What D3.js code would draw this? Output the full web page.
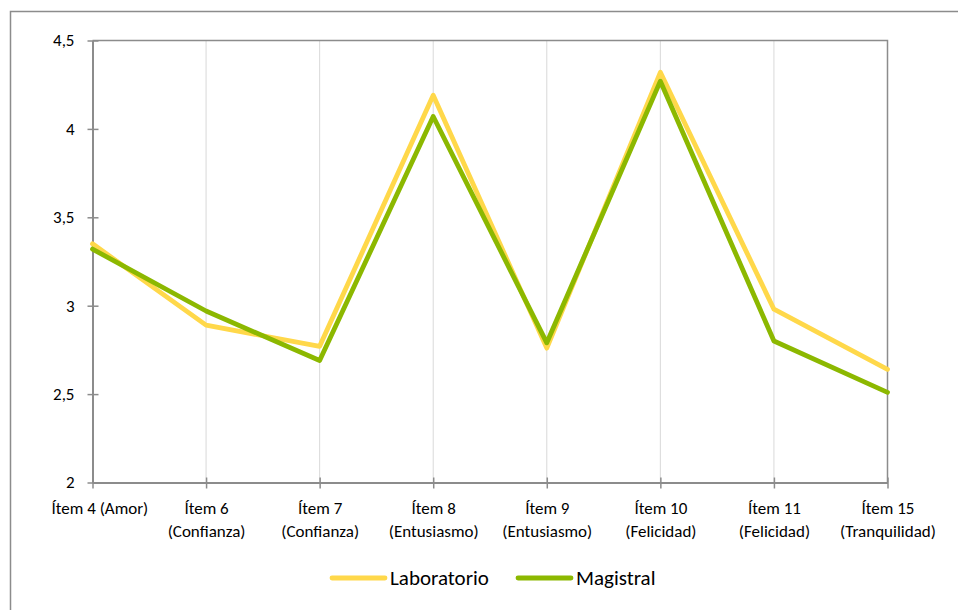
<!DOCTYPE html>
<html>
<head>
<meta charset="utf-8">
<script src="https://cdn.jsdelivr.net/npm/d3@7"></script>
<style>
  html, body { margin: 0; padding: 0; background: #fff; }
  svg { display: block; }
  svg text { font-family: Carlito, Calibri, Lato, sans-serif; }
</style>
</head>
<body>
<svg id="chart" width="958" height="610"></svg>
<script>
// Item labels (two lines each) and mean scores per teaching group
const categories = [
  ["Ítem 4 (Amor)"],
  ["Ítem 6", "(Confianza)"],
  ["Ítem 7", "(Confianza)"],
  ["Ítem 8", "(Entusiasmo)"],
  ["Ítem 9", "(Entusiasmo)"],
  ["Ítem 10", "(Felicidad)"],
  ["Ítem 11", "(Felicidad)"],
  ["Ítem 15", "(Tranquilidad)"]
];
const laboratorio = [3.35, 2.89, 2.77, 4.19, 2.76, 4.32, 2.98, 2.64];
const magistral   = [3.32, 2.97, 2.69, 4.07, 2.79, 4.27, 2.80, 2.51];
const yTicks = [2, 2.5, 3, 3.5, 4, 4.5];
const seriesNames = ["Laboratorio", "Magistral"];
const seriesColors = ["#FFD84A", "#8CB800"];

const svg = d3.select("#chart");
const m = { left: 92.5, right: 887.5, top: 40.5, bottom: 482.5 };
const labelMinX = 51; // category labels are kept clear of the frame's left edge

const x = d3.scalePoint().domain(d3.range(categories.length)).range([m.left, m.right]);
const y = d3.scaleLinear().domain([2, 4.5]).range([m.bottom, m.top]);
const fmt = d => String(d).replace(".", ",");

// outer chart frame (extends past the right and bottom edges)
svg.append("path")
  .attr("d", `M10.5,${620} V11.5 H${970}`)
  .attr("fill", "none").attr("stroke", "#8c8c8c").attr("stroke-width", 1.5);

// vertical gridlines
svg.append("g").selectAll("line")
  .data(d3.range(1, categories.length - 1))
  .join("line")
  .attr("x1", d => x(d)).attr("x2", d => x(d))
  .attr("y1", m.top).attr("y2", m.bottom)
  .attr("stroke", "#d9d9d9").attr("stroke-width", 1);

// plot area border (top and right)
svg.append("path")
  .attr("d", `M${m.left},${m.top} H${m.right} V${m.bottom}`)
  .attr("fill", "none").attr("stroke", "#8c8c8c").attr("stroke-width", 1.5);

// y axis
const yAxis = svg.append("g").attr("transform", `translate(${m.left},0)`)
  .call(d3.axisLeft(y).tickValues(yTicks).tickFormat(fmt).tickSizeInner(0).tickSizeOuter(0).tickPadding(18));
yAxis.attr("font-family", null);
yAxis.select(".domain").attr("stroke", "#8c8c8c").attr("stroke-width", 2);
yAxis.selectAll(".tick line").attr("x1", -5).attr("x2", 6).attr("stroke", "#8c8c8c").attr("stroke-width", 1.5);
yAxis.selectAll(".tick text").attr("font-size", 17).attr("fill", "#000");

// x axis
const xAxis = svg.append("g").attr("transform", `translate(0,${m.bottom})`)
  .call(d3.axisBottom(x).tickFormat(() => "").tickSizeInner(0).tickSizeOuter(0));
xAxis.attr("font-family", null);
xAxis.select(".domain").attr("stroke", "#8c8c8c").attr("stroke-width", 2);
xAxis.selectAll(".tick line").attr("y1", -5).attr("y2", 6).attr("stroke", "#8c8c8c").attr("stroke-width", 1.5);
xAxis.selectAll(".tick text").remove();
const xLabels = xAxis.selectAll(".tick").append("text")
  .attr("text-anchor", "middle").attr("font-size", 17).attr("fill", "#000");
xLabels.selectAll("tspan")
  .data(i => categories[i])
  .join("tspan")
  .attr("x", 0)
  .attr("y", (d, j) => 31 + j * 23)
  .text(d => d);
// nudge any label that would run past the left limit
xLabels.each(function (i) {
  const bb = this.getBBox();
  const left = x(i) + bb.x;
  if (left < labelMinX) d3.select(this).attr("transform", `translate(${labelMinX - left},0)`);
});

// series lines
const line = d3.line().x((d, i) => x(i)).y(d => y(d));
[laboratorio, magistral].forEach((vals, k) => {
  svg.append("path")
    .datum(vals)
    .attr("fill", "none")
    .attr("stroke", seriesColors[k])
    .attr("stroke-width", 4.8)
    .attr("stroke-linejoin", "round")
    .attr("stroke-linecap", "round")
    .attr("d", line);
});

// legend
const legendItems = [{ x: 332, name: seriesNames[0], c: seriesColors[0] },
                     { x: 518, name: seriesNames[1], c: seriesColors[1] }];
const lg = svg.append("g").selectAll("g").data(legendItems).join("g")
  .attr("transform", d => `translate(${d.x},578)`);
lg.append("line").attr("x1", 0).attr("x2", 53).attr("y1", 0).attr("y2", 0)
  .attr("stroke", d => d.c).attr("stroke-width", 4.8).attr("stroke-linecap", "round");
lg.append("text").attr("x", 58).attr("y", 7).attr("font-size", 21).attr("fill", "#000")
  .text(d => d.name);
</script>
</body>
</html>
